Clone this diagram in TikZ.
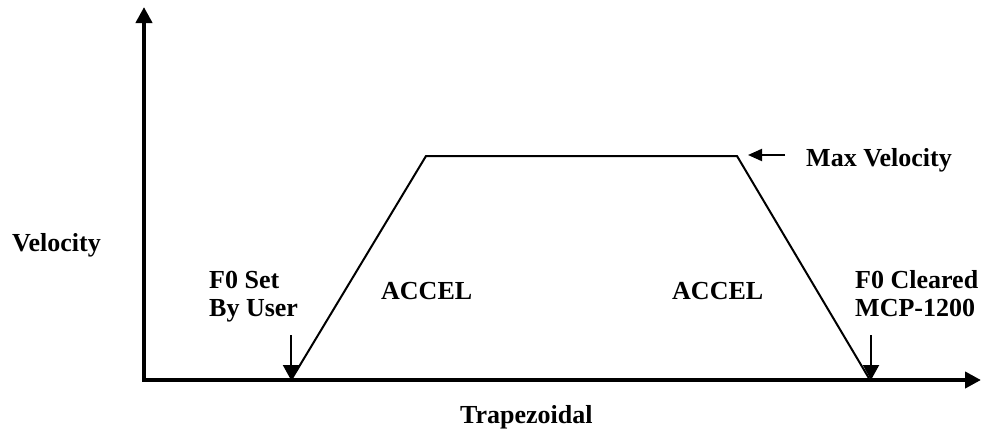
\documentclass[tikz,border=0pt]{standalone}
\usepackage{fontspec}
\setmainfont{Liberation Serif}
\usetikzlibrary{arrows.meta}
\tikzset{
  lbl/.style={font=\fontsize{26}{28}\selectfont\bfseries, inner sep=0pt, anchor=base west, align=left},
  axis/.style={line width=4pt, -{Triangle[length=16pt,width=16pt]}},
  curve/.style={line width=2pt, line join=miter},
  marker/.style={line width=2pt, -{Triangle[length=15pt,width=16pt]}},
  vmark/.style={line width=2pt, -{Triangle[length=14pt,width=12pt]}}
}
\begin{document}
\begin{tikzpicture}[x=1pt,y=-1pt]
\useasboundingbox (0,0) rectangle (982,434);
% axes
\coordinate (O) at (144,380);
\coordinate (ytop) at (144,7);
\coordinate (xend) at (981,380);
\draw[axis] (O) -- (ytop);
\draw[axis] ([xshift=-2pt]O) -- (xend);
% trapezoid
\coordinate (p1) at (291,380);
\coordinate (p2) at (426,156);
\coordinate (p3) at (737,156);
\coordinate (p4) at (870,380);
\draw[curve] (p1) -- (p2) -- (p3) -- (p4);
% markers
\coordinate (m1) at (291,335);
\coordinate (m2) at (871,335);
\draw[marker] (m1) -- (p1);
\draw[marker] (m2) -- ([xshift=1pt]p4);
\coordinate (mv) at (785,155);
\draw[vmark] (mv) -- (748,155);
% labels
\node[lbl] (vel) at (12,251) {Velocity};
\node[lbl] (f0set) at (209,316) {F0 Set\\By User};
\node[lbl] (acc1) at (381,299) {ACCEL};
\node[lbl] (acc2) at (672,299) {ACCEL};
\node[lbl] (f0clr) at (855,316) {F0 Cleared\\MCP-1200};
\node[lbl] (maxv) at (806,166) {Max Velocity};
\node[lbl] (trap) at (460,423) {Trapezoidal};
\end{tikzpicture}
\end{document}
